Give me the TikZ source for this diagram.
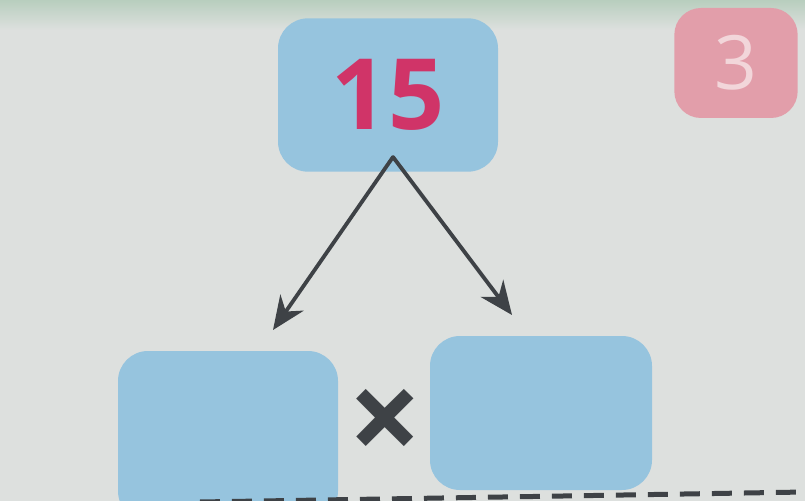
\documentclass[tikz,border=0pt]{standalone}
\usepackage{fontspec}
\setmainfont{Open Sans}
\usetikzlibrary{arrows.meta}
\definecolor{paper}{RGB}{221,224,222}
\definecolor{band}{RGB}{184,206,190}
\definecolor{boxblue}{RGB}{150,196,222}
\definecolor{numred}{RGB}{208,52,104}
\definecolor{tagpink}{RGB}{226,158,170}
\definecolor{tagtext}{RGB}{242,214,218}
\definecolor{ink}{RGB}{62,66,70}
\tikzset{
	bluebox/.style={fill=boxblue, rounded corners=9mm, inner sep=0pt},
	pinkbox/.style={fill=tagpink, rounded corners=8mm, inner sep=0pt},
	split/.style={-{Stealth[length=10mm, width=8.5mm]}, ink, line width=1.15mm}
}
\begin{document}
\begin{tikzpicture}[x=0.3mm, y=-0.3mm, line join=round, line cap=round]
	\useasboundingbox (0,0) rectangle (805,501);
	\fill[paper] (0,0) rectangle (805,501);
	\shade[top color=band, bottom color=paper] (0,0) rectangle (805,30);
	% top number and page tag
	\node[bluebox, minimum width=66mm, minimum height=46mm] (whole) at (388,95)
		{\fontsize{84}{84}\selectfont\bfseries\color{numred}15};
	\node[pinkbox, minimum width=37mm, minimum height=33mm] (tag) at (736,63)
		{\fontsize{64}{64}\selectfont\color{tagtext}3};
	% the two factors
	\node[bluebox, minimum width=66mm, minimum height=51mm] (left) at (228,436) {};
	\node[bluebox, minimum width=66.6mm, minimum height=46.2mm] (right) at (541,413) {};
	\node[ink] (times) at (385,426) {\fontsize{110}{110}\selectfont\bfseries ×};
	% arrows
	\coordinate (apex) at (393,157);
	\coordinate (tipL) at (273,330);
	\coordinate (tipR) at (512,315);
	\draw[split] (apex) -- (tipL);
	\draw[split] (apex) -- (tipR);
	% cut line
	\coordinate (cutL) at (200,502);
	\coordinate (cutR) at (805,492);
	\draw[ink, line width=1.5mm, line cap=butt, dash pattern=on 6mm off 3.6mm] (cutL) -- (cutR);
\end{tikzpicture}
\end{document}
